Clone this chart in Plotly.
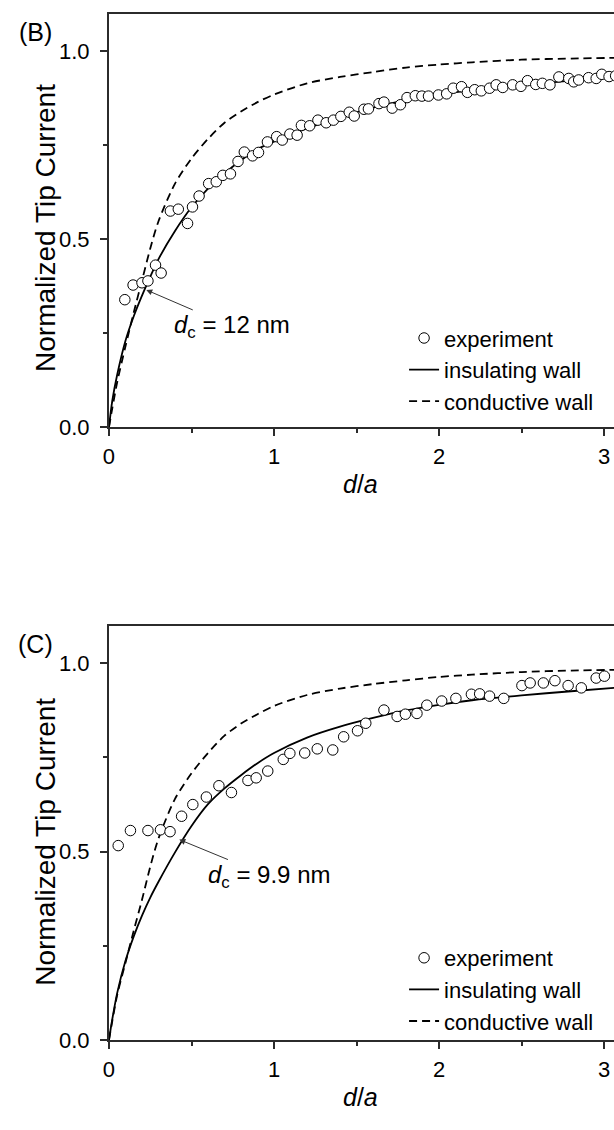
import plotly.graph_objects as go

# ---------------- data ----------------
# Panel (B) experiment
exp_b_x = [0.096, 0.146, 0.20, 0.236, 0.282, 0.316, 0.372, 0.42, 0.476, 0.506,
           0.546, 0.604, 0.65, 0.69, 0.736, 0.782, 0.82, 0.87, 0.906, 0.96,
           1.016, 1.05, 1.096, 1.14, 1.166, 1.216, 1.266, 1.316, 1.36, 1.405,
           1.456, 1.486, 1.545, 1.572, 1.636, 1.666, 1.716, 1.766, 1.806, 1.856,
           1.896, 1.936, 1.996, 2.046, 2.086, 2.136, 2.172, 2.216, 2.256, 2.306,
           2.346, 2.386, 2.446, 2.496, 2.536, 2.586, 2.626, 2.672, 2.726, 2.786,
           2.816, 2.846, 2.906, 2.952, 2.986, 3.03, 3.07]
exp_b_y = [0.339, 0.378, 0.384, 0.389, 0.431, 0.41, 0.575, 0.58, 0.542, 0.586,
           0.615, 0.648, 0.653, 0.67, 0.674, 0.707, 0.732, 0.722, 0.731, 0.759,
           0.773, 0.764, 0.78, 0.777, 0.803, 0.802, 0.817, 0.81, 0.817, 0.827,
           0.838, 0.828, 0.846, 0.847, 0.861, 0.865, 0.849, 0.858, 0.877, 0.882,
           0.881, 0.881, 0.884, 0.887, 0.902, 0.906, 0.891, 0.898, 0.895, 0.902,
           0.911, 0.904, 0.911, 0.907, 0.922, 0.912, 0.915, 0.911, 0.932, 0.928,
           0.919, 0.924, 0.93, 0.928, 0.939, 0.933, 0.935]

# Panel (C) experiment
exp_c_x = [0.056, 0.13, 0.236, 0.312, 0.37, 0.44, 0.508, 0.59, 0.666, 0.742,
           0.842, 0.892, 0.962, 1.056, 1.096, 1.186, 1.262, 1.356, 1.422, 1.506,
           1.556, 1.666, 1.746, 1.796, 1.866, 1.926, 2.016, 2.102, 2.196, 2.246,
           2.306, 2.392, 2.502, 2.552, 2.632, 2.702, 2.782, 2.862, 2.952, 3.002]
exp_c_y = [0.516, 0.556, 0.556, 0.558, 0.553, 0.594, 0.625, 0.645, 0.675, 0.657,
           0.689, 0.696, 0.714, 0.745, 0.761, 0.762, 0.773, 0.77, 0.805, 0.821,
           0.841, 0.876, 0.859, 0.865, 0.867, 0.889, 0.9, 0.907, 0.918, 0.919,
           0.913, 0.907, 0.941, 0.948, 0.948, 0.954, 0.941, 0.935, 0.961, 0.966]

# Theory curves
theory_x = [0, 0.02, 0.05, 0.1, 0.15, 0.2, 0.25, 0.3, 0.4, 0.5, 0.6, 0.7, 0.8, 0.9,
            1.0, 1.2, 1.4, 1.6, 1.8, 2.0, 2.2, 2.5, 2.8, 3.1]
insul_b = [0, 0.07, 0.14, 0.23, 0.295, 0.35, 0.40, 0.447, 0.522, 0.585, 0.635, 0.675,
           0.71, 0.74, 0.76, 0.795, 0.825, 0.85, 0.87, 0.885, 0.897, 0.91, 0.922, 0.932]
cond_b = [0, 0.05, 0.12, 0.215, 0.305, 0.39, 0.475, 0.548, 0.648, 0.715, 0.767, 0.81,
          0.84, 0.865, 0.885, 0.915, 0.932, 0.945, 0.957, 0.965, 0.971, 0.978, 0.981, 0.983]
insul_c = [0, 0.055, 0.125, 0.21, 0.275, 0.33, 0.378, 0.42, 0.498, 0.568, 0.626, 0.668,
           0.703, 0.735, 0.762, 0.803, 0.832, 0.855, 0.875, 0.89, 0.902, 0.915, 0.926, 0.936]
cond_c = [0, 0.05, 0.12, 0.205, 0.29, 0.372, 0.46, 0.535, 0.64, 0.708, 0.762, 0.808,
          0.84, 0.865, 0.887, 0.916, 0.933, 0.945, 0.955, 0.964, 0.97, 0.977, 0.981, 0.983]

x_ticks = [0, 1, 2, 3]
y_ticks = [0.0, 0.5, 1.0]
y_tick_text = ["0.0", "0.5", "1.0"]
legend_names = ["experiment", "insulating wall", "conductive wall"]
panel_labels = ["(B)", "(C)"]
dc_labels = ["<i>d</i><sub>c</sub> = 12 nm", "<i>d</i><sub>c</sub> = 9.9 nm"]

# ---------------- layout constants ----------------
W, H = 614, 1130
FONT = "Liberation Sans, Arial, Helvetica, sans-serif"
AX = "#2b2b2b"
x_left = 104 / W
dom_b = [1 - 432 / H, 1 - 14 / H]
dom_c = [1 - 1052 / H, 1 - 633 / H]

fig = go.Figure()


def add_panel(xe, ye, ins, con, xa, ya, legend):
    fig.add_trace(go.Scatter(x=theory_x, y=ins, mode="lines", name=legend_names[1],
                             line=dict(color="black", width=1.8, shape="spline", smoothing=0.8),
                             xaxis=xa, yaxis=ya, legend=legend, legendrank=2))
    fig.add_trace(go.Scatter(x=theory_x, y=con, mode="lines", name=legend_names[2],
                             line=dict(color="black", width=1.8, dash="8px,5px", shape="spline", smoothing=0.8),
                             xaxis=xa, yaxis=ya, legend=legend, legendrank=3))
    fig.add_trace(go.Scatter(x=xe, y=ye, mode="markers", name=legend_names[0],
                             marker=dict(symbol="circle", size=10.5, color="white",
                                         line=dict(color="black", width=1)),
                             xaxis=xa, yaxis=ya, legend=legend, legendrank=1))


add_panel(exp_b_x, exp_b_y, insul_b, cond_b, "x", "y", "legend")
add_panel(exp_c_x, exp_c_y, insul_c, cond_c, "x2", "y2", "legend2")

xcommon = dict(range=[0, 3.06], domain=[x_left, 1], showline=True, linewidth=2, linecolor=AX,
               ticks="outside", ticklen=7, tickwidth=2, tickcolor=AX, tickvals=x_ticks,
               minor=dict(ticks="outside", ticklen=4, tickwidth=2, tickcolor=AX, dtick=0.5, tick0=0),
               showgrid=False, zeroline=False, mirror=True,
               tickfont=dict(size=22, color="black", family=FONT), ticklabelstandoff=2)
ycommon = dict(range=[0, 1.1], showline=True, linewidth=2, linecolor=AX,
               ticks="outside", ticklen=7, tickwidth=2, tickcolor=AX,
               tickvals=y_ticks, ticktext=y_tick_text,
               minor=dict(ticks="outside", ticklen=4, tickwidth=2, tickcolor=AX, dtick=0.25, tick0=0),
               showgrid=False, zeroline=False, mirror=False,
               tickfont=dict(size=22, color="black", family=FONT), ticklabelstandoff=6)

fig.update_layout(
    width=W, height=H, margin=dict(l=0, r=0, t=0, b=0),
    paper_bgcolor="white", plot_bgcolor="white",
    font=dict(family=FONT, color="black", size=22),
    xaxis=dict(anchor="y", **xcommon),
    yaxis=dict(anchor="x", domain=dom_b, **ycommon),
    xaxis2=dict(anchor="y2", **xcommon),
    yaxis2=dict(anchor="x2", domain=dom_c, **ycommon),
    legend=dict(x=402 / W, y=1 - 374 / H, xanchor="left", yanchor="middle",
                bgcolor="rgba(0,0,0,0)", font=dict(size=22, family=FONT),
                tracegroupgap=0, itemclick=False),
    legend2=dict(x=402 / W, y=1 - 1001 / H, xanchor="left", yanchor="middle",
                 bgcolor="rgba(0,0,0,0)", font=dict(size=22, family=FONT),
                 tracegroupgap=0, itemclick=False),
    showlegend=True,
)

ann = []
# panel labels
for lab, yp in zip(panel_labels, [32, 651]):
    ann.append(dict(text=lab, x=30 / W, y=1 - yp / H, xref="paper", yref="paper",
                    showarrow=False, font=dict(size=25), xanchor="center", yanchor="middle"))
# y-axis titles
for yc in [231, 852]:
    ann.append(dict(text="Normalized Tip Current", x=40 / W, y=1 - yc / H, xref="paper", yref="paper",
                    showarrow=False, textangle=-90, font=dict(size=28),
                    xanchor="center", yanchor="middle"))
# x-axis titles
for yp in [490, 1110]:
    ann.append(dict(text="<i>d</i>/<i>a</i>", x=358 / W, y=1 - yp / H, xref="paper", yref="paper",
                    showarrow=False, font=dict(size=25), xanchor="center", yanchor="middle"))
# d_c annotations with arrows
ann.append(dict(text=dc_labels[0], x=0.226, y=0.365, xref="x", yref="y",
                ax=86, ay=37, showarrow=True, arrowhead=2, arrowsize=1.2, arrowwidth=1,
                arrowcolor="#333", font=dict(size=24), xanchor="center", yanchor="middle"))
ann.append(dict(text=dc_labels[1], x=0.426, y=0.532, xref="x2", yref="y2",
                ax=90, ay=37, showarrow=True, arrowhead=2, arrowsize=1.2, arrowwidth=1,
                arrowcolor="#333", font=dict(size=24), xanchor="center", yanchor="middle"))
fig.update_layout(annotations=ann)

fig.write_html("out.html")
